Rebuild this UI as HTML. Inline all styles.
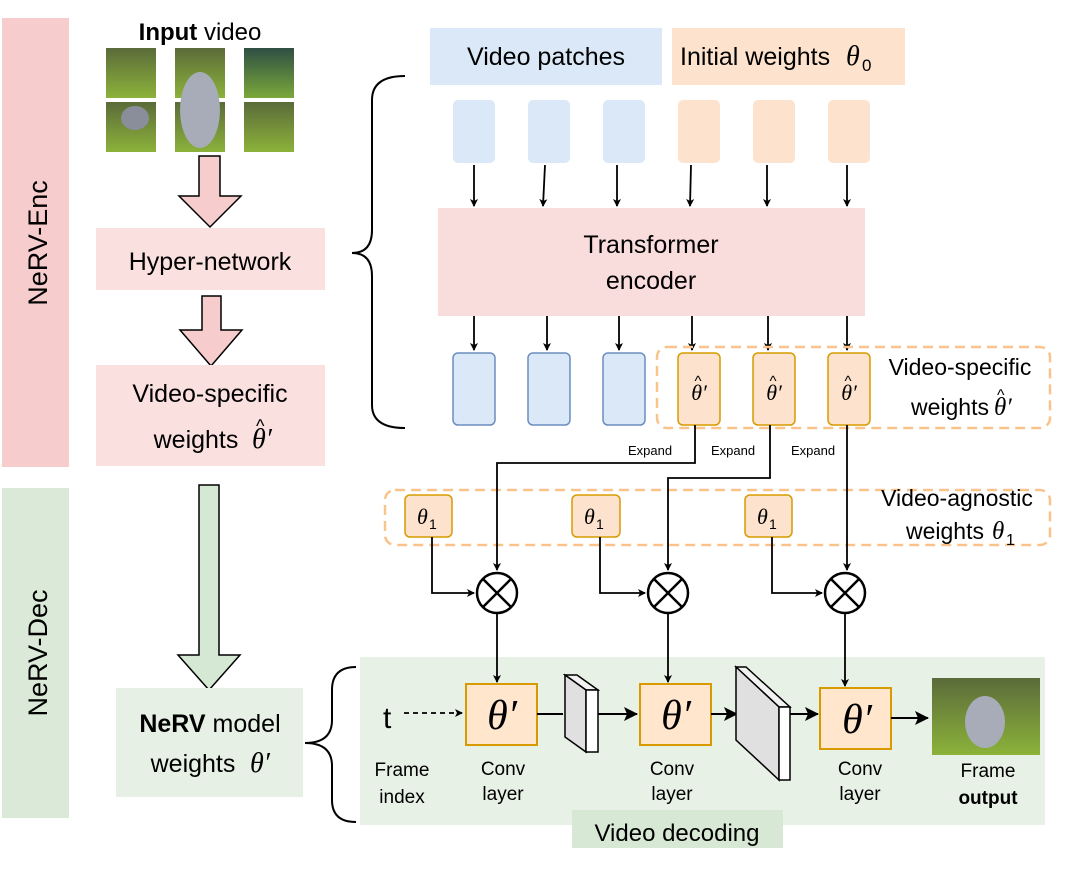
<!DOCTYPE html>
<html><head><meta charset="utf-8"><style>
body{margin:0;background:#fff}
</style></head><body>
<svg width="1080" height="880" viewBox="0 0 1080 880" xmlns="http://www.w3.org/2000/svg" font-family="Liberation Sans, Arial, sans-serif">
<defs>
<marker id="a" markerWidth="8" markerHeight="8" refX="7" refY="4" orient="auto" markerUnits="userSpaceOnUse"><path d="M0,0 L8,4 L0,8 L2,4z" fill="#000"/></marker>
<marker id="b" markerWidth="14" markerHeight="14" refX="13" refY="7" orient="auto" markerUnits="userSpaceOnUse"><path d="M0,0 L14,7 L0,14 L3,7z" fill="#000"/></marker>
<linearGradient id="g1" x1="0" y1="0" x2="0" y2="1"><stop offset="0" stop-color="#5a6b3a"/><stop offset="1" stop-color="#8cb23a"/></linearGradient>
<linearGradient id="g2" x1="0" y1="0" x2="0" y2="1"><stop offset="0" stop-color="#2f4f44"/><stop offset="1" stop-color="#7aa83a"/></linearGradient>
</defs>
<!-- left bars -->
<rect x="2" y="18" width="67" height="449" fill="#f6cccc"/>
<text transform="translate(47,243) rotate(-90)" text-anchor="middle" font-size="27">NeRV-Enc</text>
<rect x="2" y="488" width="67" height="330" fill="#dbead8"/>
<text transform="translate(47,653) rotate(-90)" text-anchor="middle" font-size="27">NeRV-Dec</text>
<!-- input -->
<text x="200" y="40" text-anchor="middle" font-size="24"><tspan font-weight="bold">Input</tspan> video</text>
<rect x="106" y="48" width="50" height="50" fill="url(#g1)"/><rect x="106" y="102" width="50" height="50" fill="url(#g1)"/>
<rect x="175" y="48" width="50" height="50" fill="url(#g1)"/><rect x="175" y="102" width="50" height="50" fill="url(#g1)"/>
<ellipse cx="200" cy="110" rx="20" ry="38" fill="#a7acb8"/>
<rect x="244" y="48" width="50" height="50" fill="url(#g2)"/><rect x="244" y="102" width="50" height="50" fill="url(#g1)"/>
<ellipse cx="135" cy="118" rx="14" ry="12" fill="#8a8e9a"/>
<!-- pink arrows -->
<path d="M199,156 H220 V196 H241 L210,227 L179,196 H199Z" fill="#f6cccc" stroke="#000" stroke-width="1.5"/>
<rect x="96" y="228" width="229" height="62" fill="#fbe0e0"/>
<text x="210" y="270" text-anchor="middle" font-size="25">Hyper-network</text>
<path d="M202,296 H221 V330 H242 L211,366 L180,330 H202Z" fill="#f6cccc" stroke="#000" stroke-width="1.5"/>
<rect x="96" y="365" width="229" height="101" fill="#fbe0e0"/>
<text x="210" y="402" text-anchor="middle" font-size="25">Video-specific</text>
<text x="196" y="448" text-anchor="middle" font-size="25">weights</text>
<text x="252" y="448" font-size="28" font-family="Liberation Serif, serif" font-style="italic">θ′</text>
<text x="256" y="432" font-size="18">^</text>
<!-- green arrow -->
<path d="M199,485 H219 V655 H240 L209,690 L178,655 H199Z" fill="#d5e8d4" stroke="#000" stroke-width="1.5"/>
<rect x="116" y="688" width="187" height="109" fill="#e6f0e4"/>
<text x="210" y="732" text-anchor="middle" font-size="25"><tspan font-weight="bold">NeRV</tspan> model</text>
<text x="193" y="772" text-anchor="middle" font-size="25">weights</text>
<text x="250" y="772" font-size="28" font-family="Liberation Serif, serif" font-style="italic">θ′</text>
<!-- braces -->
<path d="M405,76 Q372,76 372,100 V230 Q372,253 352,253 Q372,253 372,276 V405 Q372,428 405,428" fill="none" stroke="#000" stroke-width="2"/>
<path d="M356,667 Q332,667 332,690 V720 Q332,743 305,743 Q332,743 332,766 V800 Q332,822 356,822" fill="none" stroke="#000" stroke-width="2"/>
<!-- top boxes -->
<rect x="430" y="28" width="232" height="57" fill="#dae8f7"/>
<text x="546" y="65" text-anchor="middle" font-size="25">Video patches</text>
<rect x="672" y="28" width="233" height="57" fill="#fde3cd"/>
<text x="680" y="65" font-size="25">Initial weights</text>
<text x="846" y="65" font-size="28" font-family="Liberation Serif, serif" font-style="italic">θ</text>
<text x="862" y="71" font-size="17">0</text>
<g fill="#dae8f7"><rect x="453" y="100" width="42" height="63" rx="5"/><rect x="528" y="100" width="42" height="63" rx="5"/><rect x="603" y="100" width="42" height="63" rx="5"/></g>
<g fill="#fde3cd"><rect x="678" y="100" width="42" height="63" rx="5"/><rect x="753" y="100" width="42" height="63" rx="5"/><rect x="828" y="100" width="42" height="63" rx="5"/></g>
<g stroke="#000" stroke-width="1.8" marker-end="url(#a)">
<line x1="474" y1="165" x2="474" y2="206"/><line x1="545" y1="165" x2="543" y2="206"/><line x1="617" y1="165" x2="617" y2="206"/>
<line x1="691" y1="165" x2="690" y2="206"/><line x1="767" y1="165" x2="767" y2="206"/><line x1="847" y1="165" x2="847" y2="206"/>
</g>
<rect x="438" y="208" width="427" height="108" fill="#f9dcdc"/>
<text x="651" y="253" text-anchor="middle" font-size="25">Transformer</text>
<text x="651" y="289" text-anchor="middle" font-size="25">encoder</text>
<g stroke="#000" stroke-width="1.8" marker-end="url(#a)">
<line x1="474" y1="316" x2="474" y2="350"/><line x1="547" y1="316" x2="547" y2="350"/><line x1="619" y1="316" x2="619" y2="350"/>
<line x1="692" y1="316" x2="692" y2="350"/><line x1="768" y1="316" x2="768" y2="350"/><line x1="847" y1="316" x2="847" y2="350"/>
</g>
<g fill="#dae8f7" stroke="#6c8ebf" stroke-width="1.5"><rect x="453" y="353" width="42" height="72" rx="5"/><rect x="528" y="353" width="42" height="72" rx="5"/><rect x="603" y="353" width="42" height="72" rx="5"/></g>
<rect x="657" y="347" width="393" height="81" rx="10" fill="none" stroke="#f9c48c" stroke-width="2.5" stroke-dasharray="10,6"/>
<g fill="#fde3cd" stroke="#d79b00" stroke-width="1.5"><rect x="678" y="353" width="42" height="72" rx="5"/><rect x="753" y="353" width="42" height="72" rx="5"/><rect x="828" y="353" width="42" height="72" rx="5"/></g>
<g font-family="Liberation Serif, serif" font-style="italic" font-size="22" text-anchor="middle"><text x="699" y="400">θ′</text><text x="774" y="400">θ′</text><text x="849" y="400">θ′</text></g>
<g font-size="15" text-anchor="middle"><text x="698" y="386">^</text><text x="773" y="386">^</text><text x="848" y="386">^</text></g>
<text x="960" y="375" text-anchor="middle" font-size="23">Video-specific</text>
<text x="950" y="415" text-anchor="middle" font-size="23">weights</text>
<text x="994" y="415" font-size="25" font-family="Liberation Serif, serif" font-style="italic">θ′</text>
<text x="997" y="400" font-size="16">^</text>
<g font-size="13"><text x="628" y="455">Expand</text><text x="711" y="455">Expand</text><text x="791" y="455">Expand</text></g>
<!-- agnostic -->
<rect x="385" y="490" width="665" height="55" rx="10" fill="none" stroke="#f9c48c" stroke-width="2.5" stroke-dasharray="10,6"/>
<g fill="#fde3cd" stroke="#d79b00" stroke-width="1.5"><rect x="405" y="495" width="47" height="42" rx="5"/><rect x="572" y="495" width="48" height="42" rx="5"/><rect x="745" y="495" width="47" height="42" rx="5"/></g>
<g font-family="Liberation Serif, serif" font-style="italic" font-size="22"><text x="417" y="524">θ</text><text x="584" y="524">θ</text><text x="757" y="524">θ</text></g>
<g font-size="14"><text x="429" y="529">1</text><text x="596" y="529">1</text><text x="769" y="529">1</text></g>
<text x="957" y="506" text-anchor="middle" font-size="23">Video-agnostic</text>
<text x="945" y="539" text-anchor="middle" font-size="23">weights</text>
<text x="992" y="539" font-size="25" font-family="Liberation Serif, serif" font-style="italic">θ</text>
<text x="1006" y="545" font-size="16">1</text>
<g fill="none" stroke="#000" stroke-width="1.8">
<path d="M695,425 V463 H497 V570" marker-end="url(#a)"/>
<path d="M770,425 V478 H668 V570" marker-end="url(#a)"/>
<path d="M847,425 V570" marker-end="url(#a)"/>
<path d="M432,537 V593 H474" marker-end="url(#a)"/>
<path d="M600,537 V593 H645" marker-end="url(#a)"/>
<path d="M772,537 V593 H822" marker-end="url(#a)"/>
</g>
<g fill="#fff" stroke="#000" stroke-width="2.5">
<circle cx="497" cy="593" r="20"/><circle cx="668" cy="593" r="20"/><circle cx="845" cy="593" r="20"/>
<path d="M483,579 L511,607 M511,579 L483,607 M654,579 L682,607 M682,579 L654,607 M831,579 L859,607 M859,579 L831,607"/>
</g>
<!-- decoding -->
<rect x="360" y="657" width="685" height="168" fill="#e8f1e6"/>
<rect x="572" y="810" width="211" height="38" fill="#d7e8d5"/>
<text x="677" y="841" text-anchor="middle" font-size="24">Video decoding</text>
<g stroke="#000" stroke-width="1.8" marker-end="url(#a)">
<line x1="497" y1="613" x2="497" y2="682"/><line x1="668" y1="613" x2="668" y2="682"/><line x1="845" y1="613" x2="845" y2="686"/>
</g>
<text x="383" y="728" font-size="30">t</text>
<line x1="404" y1="713" x2="462" y2="713" stroke="#000" stroke-width="1.8" stroke-dasharray="5,4" marker-end="url(#a)"/>
<g fill="#ffe6cc" stroke="#d79b00" stroke-width="2"><rect x="466" y="684" width="71" height="61"/><rect x="640" y="684" width="71" height="61"/><rect x="820" y="688" width="71" height="61"/></g>
<g font-family="Liberation Serif, serif" font-style="italic" font-size="42" text-anchor="middle"><text x="502" y="729">θ′</text><text x="676" y="729">θ′</text><text x="857" y="733">θ′</text></g>
<g stroke="#000" stroke-width="2" fill="none">
<line x1="537" y1="714" x2="563" y2="714"/>
<line x1="598" y1="714" x2="637" y2="714" marker-end="url(#b)"/>
<line x1="711" y1="714" x2="737" y2="714" marker-end="url(#b)"/>
<line x1="790" y1="714" x2="818" y2="714" marker-end="url(#b)"/>
<line x1="891" y1="718" x2="928" y2="718" marker-end="url(#b)"/>
</g>
<g stroke="#000" stroke-width="1.5">
<path d="M565,675 L577,675 L598,690 L586,690Z" fill="#f2f2f2"/>
<path d="M565,675 L586,690 L586,752 L565,737Z" fill="#e0e0e0"/>
<rect x="586" y="690" width="12" height="62" fill="#fff"/>
<path d="M736,667 L746,667 L790,707 L779,707Z" fill="#f2f2f2"/>
<path d="M736,667 L779,707 L779,780 L736,740Z" fill="#e0e0e0"/>
<rect x="779" y="707" width="11" height="73" fill="#fff"/>
</g>
<rect x="932" y="678" width="108" height="77" fill="url(#g1)"/>
<ellipse cx="985" cy="722" rx="20" ry="26" fill="#a7acb8"/>
<g font-size="19" text-anchor="middle">
<text x="402" y="776">Frame</text><text x="402" y="803">index</text>
<text x="503" y="775">Conv</text><text x="503" y="800">layer</text>
<text x="672" y="775">Conv</text><text x="672" y="800">layer</text>
<text x="860" y="775">Conv</text><text x="860" y="800">layer</text>
<text x="988" y="777">Frame</text><text x="988" y="804" font-weight="bold">output</text>
</g>
</svg>
</body></html>
